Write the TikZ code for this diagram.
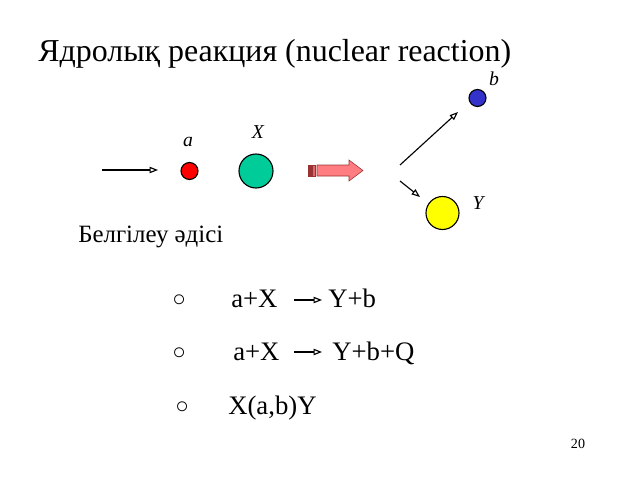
\documentclass[tikz,border=0pt]{standalone}
\usepackage{fontspec}
\setmainfont{Liberation Serif}
\usetikzlibrary{arrows.meta}
\definecolor{ballred}{RGB}{255,0,0}
\definecolor{ballgreen}{RGB}{0,204,153}
\definecolor{ballblue}{RGB}{51,51,204}
\definecolor{ballyellow}{RGB}{255,255,0}
\definecolor{fatpink}{RGB}{255,124,128}
\definecolor{fatdark}{RGB}{153,51,51}
\begin{document}
\begin{tikzpicture}[
x=0.025cm,y=-0.025cm,
ball/.style={circle,draw,thick,inner sep=0pt},
lbl/.style={font=\fontsize{14}{16}\selectfont\itshape},
eq/.style={anchor=base west,inner sep=0pt,font=\fontsize{19}{22}\selectfont},
dot/.style={anchor=base west,inner sep=0pt,font=\fontsize{16}{18}\selectfont},
ray/.style={line width=0.8pt,-{Triangle[open,length=6pt,width=4.5pt]}},
]
\useasboundingbox (0,0) rectangle (640,480);
\node[anchor=base west,inner sep=0pt,font=\fontsize{22.7}{26}\selectfont] (title) at (38,62)
    {Ядролық реакция (nuclear reaction)};
% particles
\node[ball,fill=ballred,minimum size=17*0.025cm] (a) at (189.5,171) {};
\node[ball,fill=ballgreen,minimum size=34*0.025cm] (X) at (256,171) {};
\node[ball,fill=ballblue,minimum size=17*0.025cm] (b) at (477.5,98) {};
\node[ball,fill=ballyellow,minimum size=33*0.025cm] (Y) at (442.5,213) {};
\node[lbl] (alab) at (188,142) {a};
\node[lbl] (Xlab) at (258,132) {X};
\node[lbl] (blab) at (494,79) {b};
\node[lbl] (Ylab) at (478,203) {Y};
% rays
\coordinate (in0) at (102,170);
\coordinate (in1) at (158,170);
\coordinate (up0) at (400,165);
\coordinate (up1) at (458,112);
\coordinate (dn0) at (400,181);
\coordinate (dn1) at (420,197);
\draw[ray] (in0) -- (in1);
\draw[ray] (up0) -- (up1);
\draw[ray] (dn0) -- (dn1);
% fat arrow
\path[fill=fatpink,draw=fatdark]
    (317,165) -- (349,165) -- (349,160) -- (363,170.5) -- (349,181)
    -- (349,176) -- (317,176) -- cycle;
\path[fill=fatdark,draw=fatdark]
    (308,165) rectangle (311.5,176);
\path[fill=fatpink!70!fatdark,draw=fatdark]
    (312.5,165) rectangle (315,176);
\node[anchor=base west,inner sep=0pt,font=\fontsize{17.7}{20}\selectfont] (method) at (78,242)
    {Белгілеу әдісі};
% equations
\node[dot] (o1) at (172,306) {○};
\node[eq] (l1) at (231,307) {a+X};
\node[eq] (r1) at (328,307) {Y+b};
\node[dot] (o2) at (172,359) {○};
\node[eq] (l2) at (233,360) {a+X};
\node[eq] (r2) at (332,360) {Y+b+Q};
\node[dot] (o3) at (175,413) {○};
\node[eq] (l3) at (228,414) {X(a,b)Y};
\coordinate (e1a) at (294,300);
\coordinate (e1b) at (322,300);
\coordinate (e2a) at (294,352);
\coordinate (e2b) at (322,352);
\draw[ray] (e1a) -- (e1b);
\draw[ray] (e2a) -- (e2b);
\node[anchor=base,font=\fontsize{10}{12}\selectfont] (page) at (578,448) {20};
\end{tikzpicture}
\end{document}
